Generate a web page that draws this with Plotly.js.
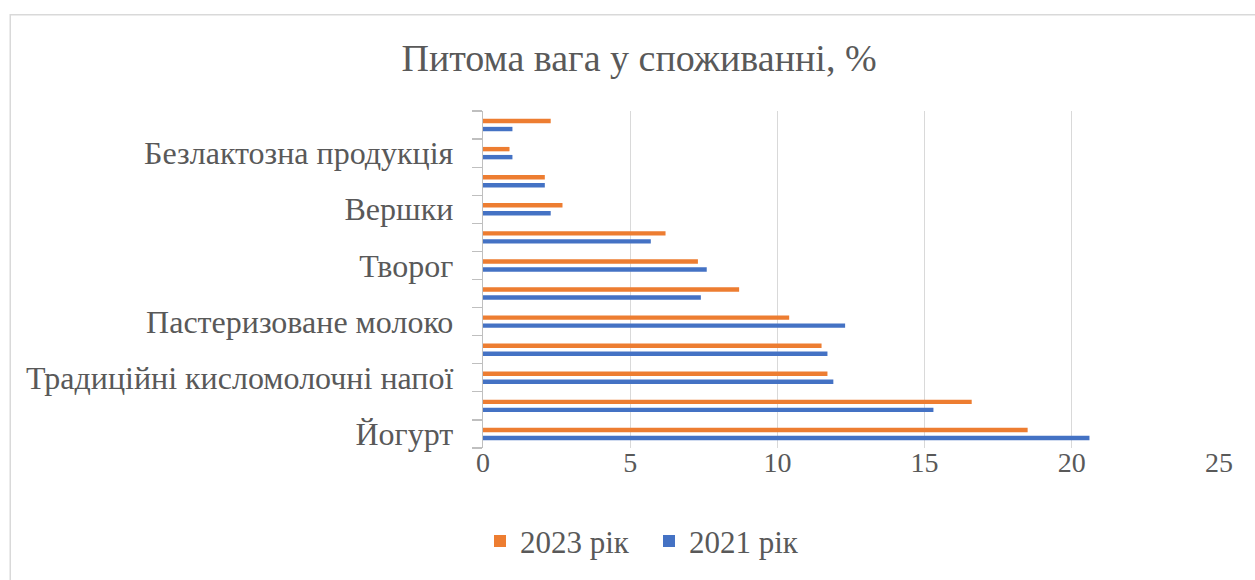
<!DOCTYPE html>
<html>
<head>
<meta charset="utf-8">
<script src="https://cdn.plot.ly/plotly-3.0.1.min.js"></script>
<style>
html,body{margin:0;padding:0;background:#fff;}
#chart{width:1255px;height:580px;}
</style>
</head>
<body>
<div id="chart"></div>
<script>
// Categories from bottom to top (unlabelled ones left blank, as in the source)
const categories = [
  "Йогурт", "",
  "Традиційні кисломолочні напої", "",
  "Пастеризоване молоко", "",
  "Творог", "",
  "Вершки", "",
  "Безлактозна продукція", ""
];
const values2021 = [20.6, 15.3, 11.9, 11.7, 12.3, 7.4, 7.6, 5.7, 2.3, 2.1, 1.0, 1.0];
const values2023 = [18.5, 16.6, 11.7, 11.5, 10.4, 8.7, 7.3, 6.2, 2.7, 2.1, 0.9, 2.3];
const seriesNames = ["2021 рік", "2023 рік"];
const xTicks = [0, 5, 10, 15, 20, 25];

const pos = categories.map((_, i) => i);
const font = "Liberation Serif, Times New Roman, serif";

const traces = [
  {type: "bar", orientation: "h", name: seriesNames[0], x: values2021, y: pos,
   marker: {color: "#4472C4"}, hoverinfo: "x+name"},
  {type: "bar", orientation: "h", name: seriesNames[1], x: values2023, y: pos,
   marker: {color: "#ED7D31"}, hoverinfo: "x+name"}
];

const plotTop = 111, plotBottom = 454;
const plotH = plotBottom - plotTop;

const layout = {
  width: 1255, height: 580,
  paper_bgcolor: "#fff", plot_bgcolor: "#fff",
  margin: {l: 483, r: 36, t: plotTop, b: 580 - plotBottom, pad: 0},
  barmode: "group", bargap: 0.43, bargroupgap: 0.45,
  title: {text: "Питома вага у споживанні, %", x: 639/1255, xref: "container", xanchor: "center",
          y: 1 - 58/580, yref: "container", yanchor: "middle",
          font: {family: font, size: 38, color: "#595959"}},
  font: {family: font, color: "#595959"},
  xaxis: {range: [0, 25], tickvals: xTicks, ticktext: xTicks.map(String),
          showgrid: true, gridcolor: "#D9D9D9", gridwidth: 1.3,
          zeroline: false, showline: false, ticks: "",
          tickfont: {family: font, size: 28, color: "#595959"}, ticklabelstandoff: -5,
          fixedrange: true},
  yaxis: {range: [-0.5, 11.5], tickmode: "array",
          tickvals: pos.filter(i => categories[i] !== ""),
          ticktext: categories.filter(c => c !== ""),
          ticks: "", showgrid: false, zeroline: false,
          showline: true, linecolor: "#BFBFBF", linewidth: 1.3,
          minor: {tickmode: "linear", tick0: -0.5, dtick: 1, ticks: "outside",
                  ticklen: 10, tickcolor: "#BFBFBF", tickwidth: 1.3, showgrid: false},
          ticklabelstandoff: 22,
          tickfont: {family: font, size: 32, color: "#595959"},
          fixedrange: true},
  showlegend: true,
  legend: {orientation: "h", traceorder: "reversed", x: (480 - 483) / 736.4, xanchor: "left",
           y: (plotBottom - 549) / plotH, yanchor: "middle",
           font: {family: font, size: 31, color: "#595959"},
           itemwidth: 30, entrywidth: 124, entrywidthmode: "pixels", bgcolor: "rgba(0,0,0,0)"},
  shapes: [{type: "rect", xref: "paper", yref: "paper",
            x0: (10 - 483) / 736.4, x1: 1.2, y0: -0.6, y1: (plotBottom - 13) / plotH,
            line: {color: "#D9D9D9", width: 1.5}, fillcolor: "rgba(0,0,0,0)", layer: "below"}]
};

Plotly.newPlot("chart", traces, layout, {displayModeBar: false, staticPlot: true});
</script>
</body>
</html>
